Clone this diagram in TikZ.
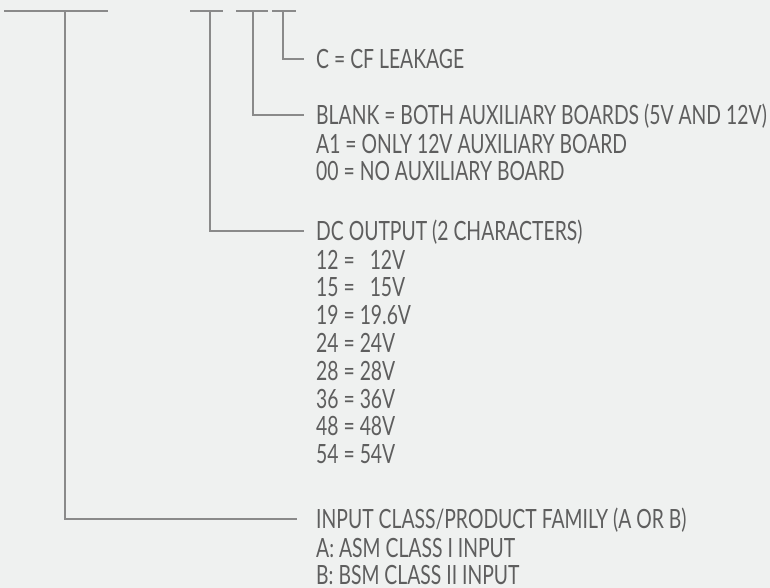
\documentclass[tikz,border=0pt]{standalone}
\usepackage{fontspec}
\setmainfont{Lato}[FakeStretch=0.73]
\usetikzlibrary{positioning}
\usepackage{xcolor}
\definecolor{bgcol}{HTML}{EFF1F0}
\definecolor{linecol}{HTML}{8A8A8A}
\definecolor{txtcol}{HTML}{5E5E5E}

\begin{document}
\begin{tikzpicture}[x=1pt, y=-1pt,
    head/.style={anchor=west, inner sep=0pt, text height=19pt, text depth=0pt, text=txtcol, font=\fontsize{26.5}{27.8}\selectfont},
    list/.style={anchor=north west, inner sep=0pt, align=left, text=txtcol, font=\fontsize{26.5}{27.8}\selectfont},
    bar/.style={draw=linecol, line width=1.5pt},
    link/.style={draw=linecol, line width=1.5pt}
]
\fill[bgcol] (0,0) rectangle (770,588);
\useasboundingbox (0,0) rectangle (770,588);

% Top bars
\coordinate (b1) at (65,11);
\coordinate (b2) at (210,11);
\coordinate (b3) at (253,11);
\coordinate (b4) at (283,11);
\draw[bar] (4,11) -- (108,11);
\draw[bar] (190,11) -- (223,11);
\draw[bar] (236,11) -- (268,11);
\draw[bar] (272,11) -- (296,11);

% Nodes
\node[head] (leak) at (316,59) {C = CF LEAKAGE};
\node[head] (aux) at (316,115) {BLANK = BOTH AUXILIARY BOARDS (5V AND 12V)};
\node[list, below=9pt of aux.south west, anchor=north west] (auxlist) {A1 = ONLY 12V AUXILIARY BOARD\\ 00 = NO AUXILIARY BOARD};
\node[head] (dc) at (316,231) {DC OUTPUT (2 CHARACTERS)};
\node[list, below=9pt of dc.south west, anchor=north west] (dclist) {12 =\hspace{10pt} 12V\\ 15 =\hspace{10pt} 15V\\ 19 = 19.6V\\ 24 = 24V\\ 28 = 28V\\ 36 = 36V\\ 48 = 48V\\ 54 = 54V};
\node[head] (family) at (316,519) {INPUT CLASS/PRODUCT FAMILY (A OR B)};
\node[list, below=9pt of family.south west, anchor=north west] (famlist) {A: ASM CLASS I INPUT\\ B: BSM CLASS II INPUT};

% Connectors
\draw[link] (b4) |- ([xshift=-12pt]leak.west);
\draw[link] (b3) |- ([xshift=-12pt]aux.west);
\draw[link] (b2) |- ([xshift=-12pt]dc.west);
\draw[link] (b1) |- ([xshift=-19pt]family.west);
\end{tikzpicture}
\end{document}
